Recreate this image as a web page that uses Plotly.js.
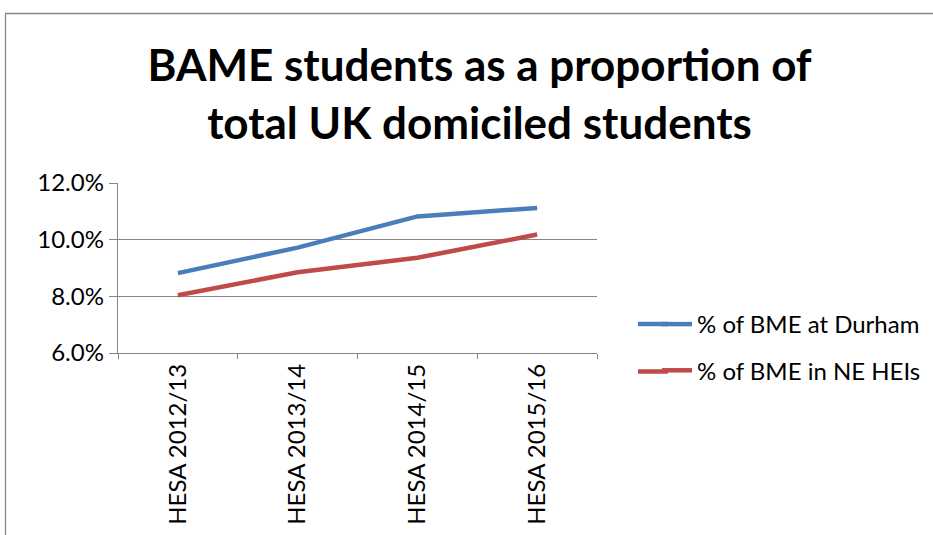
<!DOCTYPE html>
<html><head><meta charset="utf-8">
<script src="https://cdn.plot.ly/plotly-3.0.1.min.js"></script>
<style>html,body{margin:0;padding:0;background:#fff}#chart{width:933px;height:535px}</style>
</head><body><div id="chart"></div>
<script>
const categories = ["HESA 2012/13", "HESA 2013/14", "HESA 2014/15", "HESA 2015/16"];
const durham = [8.82, 9.72, 10.82, 11.12];
const neHEIs = [8.04, 8.85, 9.36, 10.18];
const seriesNames = ["% of BME at Durham", "% of BME in NE HEIs"];
const colors = ["#4A7EBB", "#BE4B48"];

const FONT = "Lato, 'Open Sans', sans-serif";
const traces = [
  {x: categories, y: durham, name: seriesNames[0], type: "scatter", mode: "lines",
   line: {color: colors[0], width: 4.5}, legendgroup: "a"},
  {x: categories, y: neHEIs, name: seriesNames[1], type: "scatter", mode: "lines",
   line: {color: colors[1], width: 4.5}, legendgroup: "b"}
];
const L = 118, R = 597, T = 183, B = 353;
const pw = R - L, ph = B - T;
function px(x){return (x - L)/pw;}
function py(y){return (B - y)/ph;}
const legendY = [324, 371.5];
const layout = {
  width: 933, height: 535,
  margin: {l: L, r: 933 - R, t: T, b: 535 - B, pad: 0, autoexpand: false},
  paper_bgcolor: "#fff", plot_bgcolor: "#fff",
  font: {family: FONT, color: "#000", size: 24},
  title: {text: "BAME students as a proportion of<br>total UK domiciled students",
    font: {family: FONT, size: 44, weight: "bold", color: "#000"},
    x: 0.514, xanchor: "center", y: 0.848, yanchor: "middle"},
  xaxis: {type: "category", showgrid: false, showline: true, linecolor: "#868686", linewidth: 1.3,
    ticks: "outside", tickson: "boundaries", ticklen: 5, tickcolor: "#868686",
    tickangle: -90, tickfont: {size: 24, family: FONT}, range: [-0.5, 3.5], fixedrange: true},
  yaxis: {range: [6, 12], dtick: 2, tick0: 6, tickformat: ".1f", ticksuffix: "%",
    showgrid: true, gridcolor: "#868686", gridwidth: 1.3, zeroline: false,
    showline: true, linecolor: "#868686", linewidth: 1.3,
    ticks: "outside", ticklen: 8, tickcolor: "#868686",
    tickfont: {size: 24, family: FONT}, fixedrange: true},
  showlegend: true,
  legend: {x: px(657), xanchor: "left", y: py(302), yanchor: "top",
    font: {size: 24, family: FONT}, tracegroupgap: 12, traceorder: "grouped",
    bgcolor: "rgba(0,0,0,0)"},
  shapes: [{type: "rect", xref: "paper", yref: "paper",
    x0: px(5.5), x1: px(940), y0: py(13.5), y1: py(545),
    line: {color: "#868686", width: 1.3}, fillcolor: "rgba(0,0,0,0)", layer: "below"}]
    .concat(colors.map((c, i) => ({type: "line", xref: "paper", yref: "paper",
      x0: px(638), x1: px(668), y0: py(legendY[i]), y1: py(legendY[i]),
      line: {color: c, width: 4.5}})))
};
Plotly.newPlot("chart", traces, layout, {staticPlot: true, displayModeBar: false});
</script></body></html>
